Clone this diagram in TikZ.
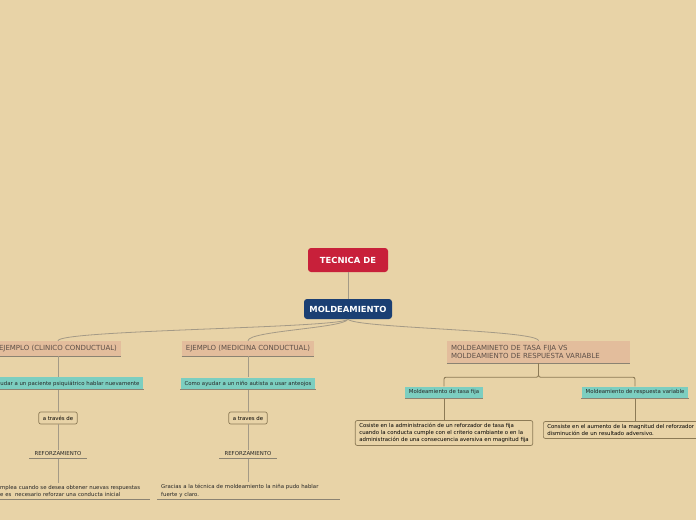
\documentclass[tikz,border=0pt]{standalone}
\usepackage{fontspec}
\setmainfont{DejaVu Sans}
\usetikzlibrary{positioning}
\definecolor{bgsand}{HTML}{E8D3A7}
\definecolor{topred}{HTML}{C8203A}
\definecolor{topblue}{HTML}{1B3F73}
\definecolor{hdsalmon}{HTML}{E3BD9C}
\definecolor{hdtext}{HTML}{5E5048}
\definecolor{subteal}{HTML}{7CCEC0}
\definecolor{linkgray}{HTML}{A49A86}
\definecolor{edgebrown}{HTML}{8C7A56}
\tikzset{
  topbox/.style={rounded corners=3pt, text=white, inner sep=2pt,
    font=\fontsize{8.4}{9}\selectfont\bfseries},
  header/.style={fill=hdsalmon, text=hdtext, inner xsep=4pt, minimum height=15,
    font=\fontsize{7}{8}\selectfont},
  leaf/.style={fill=subteal, text=black!85, inner xsep=4pt, minimum height=11,
    font=\fontsize{5.4}{6}\selectfont},
  viabox/.style={draw=edgebrown, fill=bgsand, rounded corners=2pt, minimum height=12,
    inner xsep=4pt, line width=0.7pt, font=\fontsize{5.4}{6.8}\selectfont},
  note/.style={text=black!85, inner xsep=4pt, inner ysep=2pt, align=left,
    font=\fontsize{5.4}{7.6}\selectfont},
  link/.style={draw=linkgray, line width=0.8pt},
  branch/.style={draw=edgebrown, line width=0.9pt, rounded corners=2pt},
  uline/.style={draw=linkgray!85!black, line width=0.8pt}
}
\begin{document}
\begin{tikzpicture}[x=1pt,y=-1pt]
  % background and page size
  \fill[bgsand] (0,0) rectangle (696,520);
  \useasboundingbox (0,0) rectangle (696,520);

  % central topic
  \node[topbox, fill=topred, minimum width=80, minimum height=24] (tec) at (348,260) {TECNICA DE};
  \node[topbox, fill=topblue, minimum width=88, minimum height=20] (mold) at (348,309) {MOLDEAMIENTO};
  \draw[link] (tec.south) -- (mold.north);

  % main branches
  \node[header] (clin) at (58,348.5) {EJEMPLO (CLINICO CONDUCTUAL)};
  \node[header] (med) at (248,348.5) {EJEMPLO (MEDICINA CONDUCTUAL)};
  \node[header, align=left, text width=175, minimum height=22] (tasa) at (538.5,352)
    {MOLDEAMINETO DE TASA FIJA VS\\MOLDEAMIENTO DE RESPUESTA VARIABLE};
  \foreach \n in {clin,med,tasa}
    \draw[uline] (\n.south west) -- (\n.south east);
  \draw[link] (mold.south) .. controls +(-6,9) and +(0,-11) .. (clin.north);
  \draw[link] (mold.south) .. controls +(-4,9) and +(0,-10) .. (med.north);
  \draw[link] (mold.south) .. controls +(6,9) and +(0,-11) .. (tasa.north);

  % left branch
  \node[leaf] (c1) at (58,383.5) {Como ayudar a un paciente psiquiátrico hablar nuevamente};
  \node[viabox] (v1) at (58,418) {a través de};
  \node[note, minimum width=57] (r1) at (58,454) {REFORZAMIENTO};
  \node[note, anchor=west, text width=146] (b1) at (-4,491)
    {mplea cuando se desea obtener nuevas respuestas\\e es\ \ necesario reforzar una conducta inicial};
  \draw[link] (clin.south) -- (c1.north);
  \draw[link] (c1.south) -- (v1.north);
  \draw[link] (v1.south) -- (r1.north);
  \draw[link] (r1.south) -- (r1.south |- b1.north);

  % middle branch
  \node[leaf] (m1) at (248,383.5) {Como ayudar a un niño autista a usar anteojos};
  \node[viabox] (v2) at (248,418) {a traves de};
  \node[note, minimum width=57] (r2) at (248,454) {REFORZAMIENTO};
  \node[note, anchor=west, text width=175] (b2) at (157,491)
    {Gracias a la técnica de moldeamiento la niña pudo hablar\\fuerte y claro.};
  \draw[link] (med.south) -- (m1.north);
  \draw[link] (m1.south) -- (v2.north);
  \draw[link] (v2.south) -- (r2.north);
  \draw[link] (r2.south) -- (r2.south |- b2.north);

  % right branch
  \node[leaf] (t1) at (444,392.5) {Moldeamiento de tasa fija};
  \node[leaf] (t2) at (635,392.5) {Moldeamiento de respuesta variable};
  \node[viabox, align=left, inner ysep=3pt] (x1) at (444,433)
    {Cosiste en la administración de un reforzador de tasa fija\\cuando la conducta cumple con el criterio cambiante o en la\\administración de una consecuencia aversiva en magnitud fija};
  \node[viabox, align=left, anchor=west, text width=185, inner ysep=3pt] (x2) at (543,430)
    {Consiste en el aumento de la magnitud del reforzador\\disminución de un resultado adversivo.};
  \draw[branch] (tasa.south) -- ++(0,14) -| (t1.north);
  \draw[branch] (tasa.south) -- ++(0,14) -| (t2.north);
  \draw[branch] (t1.south) -- (x1.north);
  \draw[branch] (t2.south) -- (t2.south |- x2.north);

  % underlines
  \foreach \n in {c1,m1,t1,t2,r1,r2,b1,b2}
    \draw[uline] (\n.south west) -- (\n.south east);
\end{tikzpicture}
\end{document}
